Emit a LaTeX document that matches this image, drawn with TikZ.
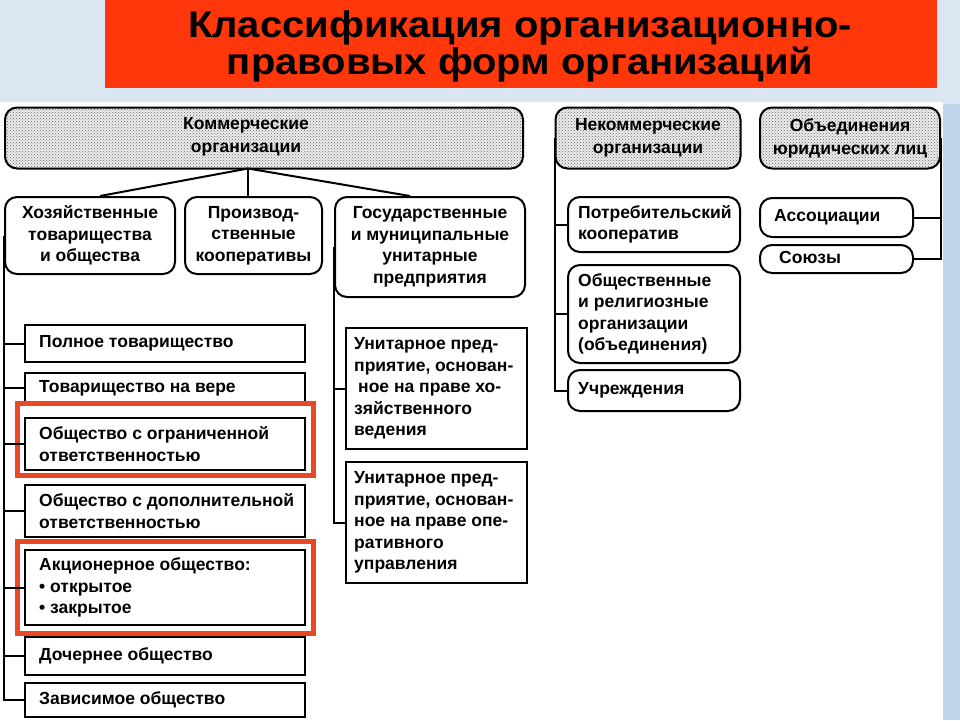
\documentclass[tikz,border=0pt]{standalone}
\usepackage{fontspec}
\setmainfont{Liberation Sans}
\usetikzlibrary{patterns,calc}
\definecolor{bgblue}{RGB}{218,231,243}
\definecolor{stripblue}{RGB}{192,212,234}
\definecolor{titlered}{RGB}{255,55,10}
\definecolor{hlred}{RGB}{234,72,36}
\newcommand\bfnt{\fontsize{17.5}{21.5}\selectfont\bfseries}
\newcommand\hdfnt{\fontsize{17.5}{23}\selectfont\bfseries}
\newcommand\ttlfnt{\fontsize{37}{37}\selectfont\bfseries}
\tikzset{
  ln/.style={line width=2pt, black},
  bx/.style={draw, line width=2pt, fill=white, inner sep=0pt, font=\bfnt, align=center},
  rbx/.style={bx, rounded corners=12pt},
  sbx/.style={bx},
  hdr/.style={bx, rounded corners=12pt, fill=none, preaction={fill=black!7}, pattern=crosshatch dots, pattern color=black!60, font=\hdfnt},
  ltxt/.style={font=\bfnt, align=left, anchor=west, inner sep=0pt},
  hl/.style={draw=hlred, line width=5pt},
}
\begin{document}
\begin{tikzpicture}[x=1pt,y=-1pt]
\useasboundingbox (0,0) rectangle (960,720);
% background
\fill[bgblue] (0,0) rectangle (960,720);
\fill[white] (0,102) rectangle (943,720);
\fill[stripblue] (943,104) rectangle (960,720);
% title
\fill[titlered] (105,0) rectangle (937,88);
\node[font=\ttlfnt, align=center, inner sep=0pt] (title) at (520,46) {\scalebox{1.08}[1]{Классификация организационно-}\\\scalebox{1.08}[1]{правовых форм организаций}};

% headers
\node[hdr, minimum width=518pt, minimum height=61pt] (kom) at (264,138) {};
\node[font=\hdfnt, align=center, inner sep=0pt] (komt) at (246,137) {Коммерческие\\организации};
\node[hdr, minimum width=185pt, minimum height=61pt] (nek) at (648,138) {Некоммерческие\\организации};
\node[hdr, minimum width=180pt, minimum height=61pt] (obj) at (850,138) {Объединения\\юридических лиц};

% commercial subtypes
\node[rbx, minimum width=170pt, minimum height=77pt] (hoz) at (90,235.5) {Хозяйственные\\товарищества\\и общества};
\node[rbx, minimum width=137pt, minimum height=77pt] (proizv) at (253.5,235.5) {Производ-\\ственные\\кооперативы};
\node[rbx, minimum width=190pt, minimum height=100pt] (gos) at (430,247) {Государственные\\и муниципальные\\унитарные\\предприятия};

% non-commercial
\node[rbx, minimum width=172pt, minimum height=55pt, label={[ltxt, xshift=11pt]west:{Потребительский\\кооператив}}] (potr) at (654,224.5) {};
\node[rbx, minimum width=172pt, minimum height=98pt, label={[ltxt, xshift=11pt]west:{Общественные\\и религиозные\\организации\\(объединения)}}] (obsh) at (654,314) {};
\node[rbx, minimum width=172pt, minimum height=41pt, label={[ltxt, xshift=11pt]west:{Учреждения}}] (uchr) at (654,390.5) {};

% unions
\node[rbx, minimum width=153pt, minimum height=39pt, label={[ltxt, xshift=15pt]west:{Ассоциации}}] (assoc) at (836.5,217.5) {};
\node[rbx, minimum width=153pt, minimum height=28pt, label={[ltxt, xshift=20pt, yshift=2pt]west:{Союзы}}] (soyuz) at (836.5,259) {};

% left list
\node[sbx, minimum width=280pt, minimum height=37pt, label={[ltxt, xshift=15pt]west:{Полное товарищество}}] (polnoe) at (165,343.5) {};
\node[sbx, minimum width=280pt, minimum height=30pt, label={[ltxt, xshift=15pt]west:{Товарищество на вере}}] (vera) at (165,388) {};
\node[sbx, minimum width=280pt, minimum height=52pt, label={[ltxt, xshift=15pt]west:{Общество с ограниченной\\ответственностью}}] (ooo) at (165,444) {};
\node[sbx, minimum width=280pt, minimum height=52pt, label={[ltxt, xshift=15pt]west:{Общество с дополнительной\\ответственностью}}] (odo) at (165,511) {};
\node[sbx, minimum width=280pt, minimum height=75pt, label={[ltxt, xshift=15pt]west:{Акционерное общество:\\• открытое\\• закрытое}}] (ao) at (165,587.5) {};
\node[sbx, minimum width=280pt, minimum height=38pt, label={[ltxt, xshift=15pt]west:{Дочернее общество}}] (doch) at (165,656) {};
\node[sbx, minimum width=280pt, minimum height=34pt, label={[ltxt, xshift=15pt]west:{Зависимое общество}}] (zav) at (165,700) {};

% unitary
\node[sbx, minimum width=181pt, minimum height=121pt, label={[ltxt, xshift=9pt]west:{Унитарное пред-\\приятие, основан-\\\hspace*{4pt}ное на праве хо-\\зяйственного\\ведения}}] (un1) at (436.5,388.5) {};
\node[sbx, minimum width=181pt, minimum height=121pt, label={[ltxt, xshift=9pt]west:{Унитарное пред-\\приятие, основан-\\ное на праве опе-\\ративного\\управления}}] (un2) at (436.5,522.5) {};

% highlight frames
\draw[hl] (17,403) rectangle (313,475);
\draw[hl] (17,541) rectangle (313,633);

% connectors: commercial
\coordinate (kb) at (248,168.5);
\draw[ln] (kb) -- (kb |- proizv.north);
\draw[ln] (kb) -- ([xshift=10pt]hoz.north);
\draw[ln] (kb) -- ([xshift=-20pt]gos.north);
% left trunk
\draw[ln] (hoz.west) |- (zav.west);
\foreach \n in {polnoe,vera,ooo,odo,ao,doch}{\draw[ln] (\n.west) -- (\n.west -| hoz.west);}
% gos trunk
\draw[ln] (gos.west) |- (un2.west);
\draw[ln] (un1.west) -- (un1.west -| gos.west);
% non-commercial trunk
\draw[ln] (nek.west) |- (uchr.west);
\draw[ln] (potr.west) -- (potr.west -| nek.west);
\draw[ln] (obsh.west) -- (obsh.west -| nek.west);
% unions trunk
\draw[ln] (obj.east) |- (soyuz.east);
\draw[ln] (assoc.east) -- (assoc.east -| obj.east);
\end{tikzpicture}
\end{document}
